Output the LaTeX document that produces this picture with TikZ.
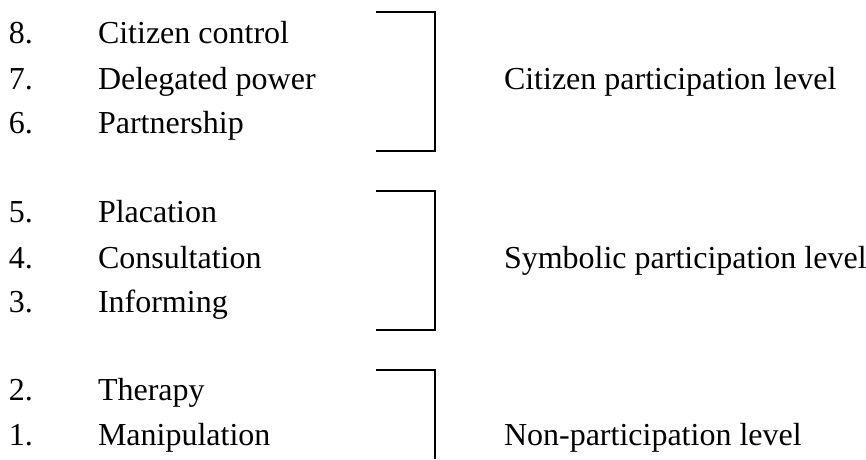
\documentclass[tikz,border=0pt]{standalone}
\usepackage{fontspec}
\setmainfont{Liberation Serif}
\usepackage{tikz}

\begin{document}
\begin{tikzpicture}[x=1pt,y=-1pt,every path/.style={line width=2pt},
    every node/.style={anchor=base west,inner sep=0pt,font=\fontsize{32}{38}\selectfont}]
          \useasboundingbox (0,0) rectangle (866,459);

          % rungs of the ladder
          \node (n8) at (8,43) {8.};   \node (r8) at (97,43) {Citizen control};
          \node (n7) at (8,89) {7.};   \node (r7) at (97,89) {Delegated power};
          \node (n6) at (8,133) {6.};  \node (r6) at (97,133) {Partnership};
          \node (n5) at (8,222) {5.};  \node (r5) at (97,222) {Placation};
          \node (n4) at (8,268) {4.};  \node (r4) at (97,268) {Consultation};
          \node (n3) at (8,312) {3.};  \node (r3) at (97,312) {Informing};
          \node (n2) at (8,400) {2.};  \node (r2) at (97,400) {Therapy};
          \node (n1) at (8,445) {1.};  \node (r1) at (97,445) {Manipulation};

          % levels
          \node (L3) at (503,89) {Citizen participation level};
          \node (L2) at (503,268) {Symbolic participation level};
          \node (L1) at (503,445) {Non-participation level};

          \draw (376,12) -| (435,151) -- (376,151);
          \draw (376,191) -| (435,330) -- (376,330);
          \draw (376,370) -| (435,459);
        \end{tikzpicture}
\end{document}
